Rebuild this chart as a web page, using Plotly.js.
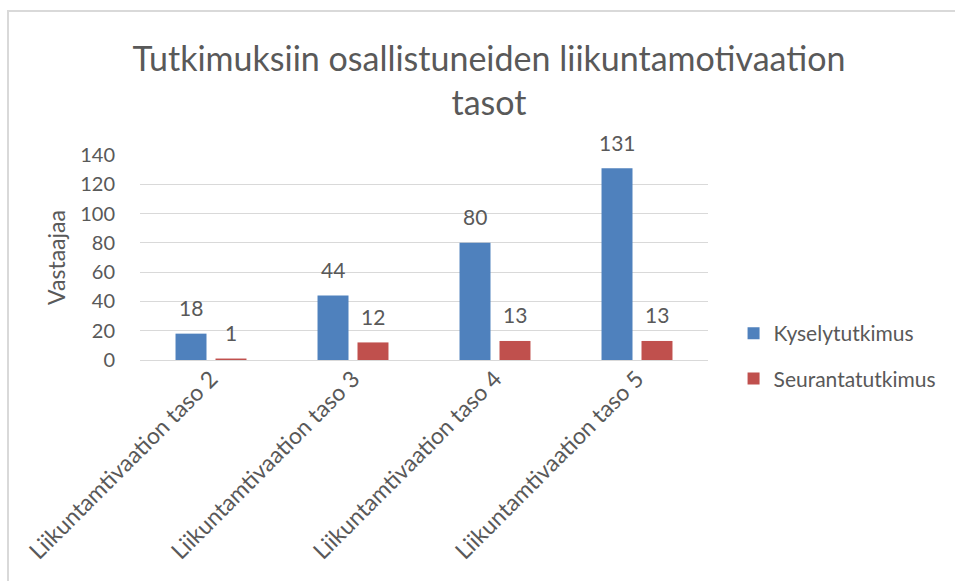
<!DOCTYPE html>
<html>
<head>
<meta charset="utf-8">
<script src="https://cdn.plot.ly/plotly-3.0.1.min.js"></script>
<style>
  html, body { margin: 0; padding: 0; width: 955px; height: 581px; overflow: hidden; background: #fff; }
  #frame { position: absolute; left: 7px; top: 10px; width: 1200px; height: 900px;
           border-top: 2px solid #d9d9d9; border-left: 2px solid #d9d9d9; box-sizing: border-box; }
  #chart { position: absolute; left: 0; top: 0; width: 955px; height: 581px; }
</style>
</head>
<body>
<div id="frame"></div>
<div id="chart"></div>
<script>
const categories = ["Liikuntamtivaation taso 2", "Liikuntamtivaation taso 3", "Liikuntamtivaation taso 4", "Liikuntamtivaation taso 5"];
const kyselytutkimus = [18, 44, 80, 131];
const seurantatutkimus = [1, 12, 13, 13];
const seriesNames = ["Kyselytutkimus", "Seurantatutkimus"];
const yTicks = [0, 20, 40, 60, 80, 100, 120, 140];

const FONT = "Lato, 'Open Sans', sans-serif";
const TXT = "#595959";

const traces = [
  { type: "bar", name: seriesNames[0], x: categories, y: kyselytutkimus,
    marker: { color: "#4F81BD" }, legendgroup: "a", hoverinfo: "y" },
  { type: "bar", name: seriesNames[1], x: categories, y: seurantatutkimus,
    marker: { color: "#C0504D" }, legendgroup: "b", hoverinfo: "y" }
];

const annotations = [];
[kyselytutkimus, seurantatutkimus].forEach((vals, s) => {
  vals.forEach((v, i) => {
    annotations.push({
      x: categories[i], y: v, xref: "x", yref: "y",
      text: String(v), showarrow: false,
      xshift: s === 0 ? -20 : 20, yshift: 26, yanchor: "middle",
      font: { family: FONT, size: 21, color: TXT }
    });
  });
});

const layout = {
  width: 955, height: 581,
  paper_bgcolor: "rgba(0,0,0,0)", plot_bgcolor: "rgba(0,0,0,0)",
  margin: { l: 140, r: 247, t: 155, b: 221 },
  title: { text: "Tutkimuksiin osallistuneiden liikuntamotivaation<br>tasot",
           font: { family: FONT, size: 34, color: TXT, lineposition: "none" },
           x: 0.512, xanchor: "center", y: 0.878, yanchor: "top" },
  barmode: "group", bargap: 0.437, bargroupgap: 0.225,
  xaxis: { tickangle: -45, tickfont: { family: FONT, size: 23, color: TXT },
           showline: false, ticks: "", showgrid: false },
  yaxis: { range: [0, 140], tickvals: yTicks, tickfont: { family: FONT, size: 20, color: TXT },
           gridcolor: "#d9d9d9", gridwidth: 1, zeroline: true, zerolinecolor: "#d9d9d9", zerolinewidth: 1,
           showline: false, ticks: "outside", ticklen: 20, tickcolor: "rgba(0,0,0,0)",
           title: { text: "Vastaajaa", font: { family: FONT, size: 23, color: TXT }, standoff: 8 } },
  legend: { x: 1.045, xanchor: "left", y: 0.229, yanchor: "top",
            font: { family: FONT, size: 21, color: TXT },
            traceorder: "grouped", tracegroupgap: 15, bgcolor: "rgba(0,0,0,0)" },
  annotations: annotations,
  showlegend: true
};

Plotly.newPlot("chart", traces, layout, { displayModeBar: false, staticPlot: true });
</script>
</body>
</html>
